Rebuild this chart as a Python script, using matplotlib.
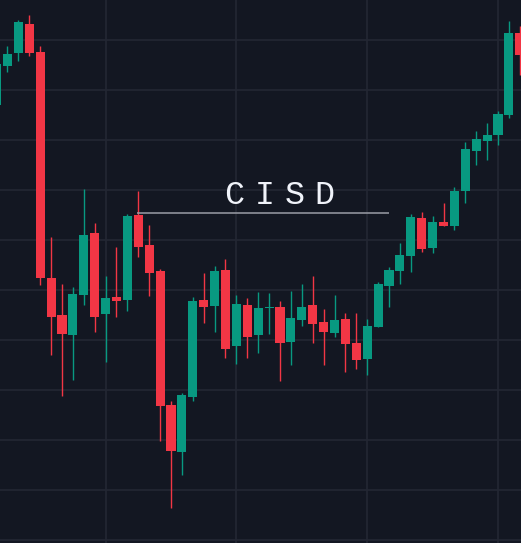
import numpy as np
import matplotlib
matplotlib.use("Agg")
import matplotlib.pyplot as plt

# OHLC (one candle per bar, left to right)
opens = [1435, 1474, 1487, 1516, 1488, 1262, 1225, 1205, 1245, 1307, 1226, 1243,
         1240, 1325, 1295, 1269, 1135, 1088, 1143, 1240, 1234, 1270, 1194, 1235,
         1205, 1232, 1233, 1198, 1220, 1235, 1218, 1207, 1221, 1197, 1181, 1213,
         1254, 1269, 1284, 1322, 1292, 1318, 1314, 1349, 1389, 1399, 1405, 1425, 1507]
highs = [1478, 1494, 1520, 1525, 1494, 1303, 1256, 1253, 1351, 1317, 1264, 1293,
         1326, 1349, 1315, 1271, 1139, 1147, 1243, 1267, 1274, 1281, 1245, 1242,
         1248, 1247, 1239, 1249, 1256, 1264, 1231, 1245, 1227, 1227, 1221, 1258,
         1273, 1297, 1326, 1328, 1324, 1337, 1353, 1398, 1409, 1417, 1429, 1519, 1514]
lows = [1432, 1468, 1479, 1484, 1255, 1185, 1144, 1160, 1235, 1208, 1178, 1223,
        1229, 1283, 1244, 1099, 1032, 1065, 1139, 1217, 1208, 1182, 1176, 1182,
        1187, 1206, 1159, 1175, 1214, 1197, 1175, 1203, 1168, 1171, 1165, 1213,
        1233, 1256, 1268, 1288, 1287, 1314, 1310, 1337, 1375, 1380, 1395, 1422, 1465]
closes = [1476, 1486, 1518, 1487, 1262, 1223, 1206, 1246, 1305, 1223, 1242, 1239,
          1324, 1293, 1267, 1134, 1089, 1145, 1239, 1233, 1269, 1191, 1236, 1203,
          1232, 1233, 1197, 1222, 1233, 1216, 1208, 1220, 1196, 1180, 1214, 1256,
          1270, 1285, 1323, 1291, 1318, 1314, 1349, 1391, 1401, 1405, 1426, 1507, 1485]

# CISD level and its span (in bar index)
cisd_level = 1327
cisd_start, cisd_end = 11.9, 35.0

# grid levels
price_grid = [1000, 1050, 1100, 1150, 1200, 1250, 1300, 1350, 1400, 1450, 1500]
time_grid = [9, 21, 33, 45]

bg = "#131722"
up = "#089981"
down = "#f23645"

fig = plt.figure(figsize=(5.21, 5.43), dpi=100, facecolor=bg)
ax = fig.add_axes([0, 0, 1, 1])
ax.set_facecolor(bg)

x = np.arange(len(opens)) - 1
o = np.array(opens)
h = np.array(highs)
l = np.array(lows)
c = np.array(closes)
colors = [up if cc >= oo else down for oo, cc in zip(o, c)]

for gy in price_grid:
    ax.axhline(gy, color="#232733", lw=1.2, zorder=0)
for gx in time_grid:
    ax.axvline(gx, color="#232733", lw=1.2, zorder=0)

ax.vlines(x, l, h, colors=colors, lw=1.0, zorder=2)
body = np.maximum(np.abs(c - o), 1.5)
ax.bar(x, body, bottom=np.minimum(o, c), width=0.83, color=colors, zorder=3)

# CISD line and label
ax.hlines(cisd_level, cisd_start, cisd_end, color="#9a9da6", lw=1.1, zorder=4)
for k, ch in enumerate("CISD"):
    ax.text(20.83 + k * 2.76, 1336, ch, color="#f0f3fa", fontsize=24,
            family="Liberation Mono", ha="center", va="baseline", zorder=5)

ax.set_xlim(-0.688, 47.11)
ax.set_ylim(997, 1540)
ax.axis("off")

fig.savefig("out.png", dpi=100, facecolor=bg)
